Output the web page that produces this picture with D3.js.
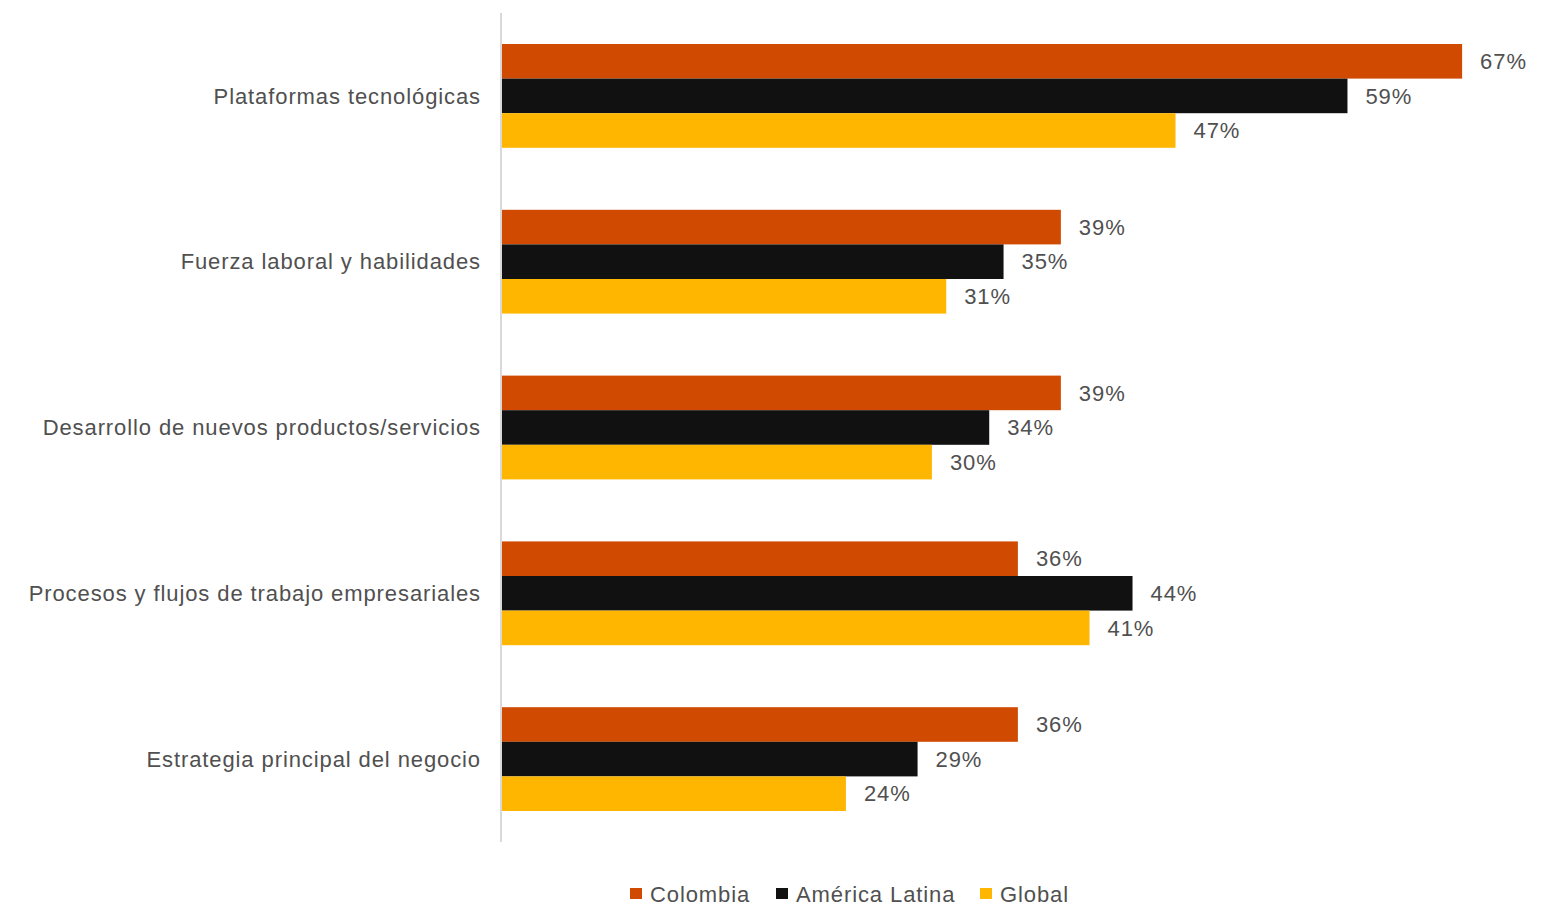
<!DOCTYPE html>
<html>
<head>
<meta charset="utf-8">
<script src="https://cdn.jsdelivr.net/npm/d3@7"></script>
<style>
  html, body { margin: 0; padding: 0; background: #ffffff; }
  svg { display: block; font-family: "Liberation Sans", Arial, sans-serif; }
  svg text { letter-spacing: 0.9px; }
</style>
</head>
<body>
<svg id="chart" width="1562" height="909"></svg>
<script>
// Áreas de transformación y porcentaje de respuestas
const categories = [
  "Plataformas tecnológicas",
  "Fuerza laboral y habilidades",
  "Desarrollo de nuevos productos/servicios",
  "Procesos y flujos de trabajo empresariales",
  "Estrategia principal del negocio"
];
const seriesNames = ["Colombia", "América Latina", "Global"];
const colombia = [67, 39, 39, 36, 36];
const americaLatina = [59, 35, 34, 44, 29];
const global = [47, 31, 30, 41, 24];
const seriesColors = ["#D04A02", "#111111", "#FFB600"];

const seriesValues = [colombia, americaLatina, global];

const svg = d3.select("#chart");
const plot = { left: 501, top: 13, bottom: 842 };
const textColor = "#505050";

const x = d3.scaleLinear().domain([0, 70]).range([plot.left + 1, plot.left + 1 + 70 * 14.33]);

const y0 = d3.scaleBand()
  .domain(categories)
  .range([plot.top, plot.bottom])
  .paddingInner(0.374)
  .paddingOuter(0.187);

const y1 = d3.scaleBand()
  .domain(seriesNames)
  .range([0, y0.bandwidth()])
  .padding(0);

const groups = svg.append("g").selectAll("g")
  .data(categories)
  .join("g")
  .attr("transform", d => `translate(0,${y0(d)})`);

groups.each(function(cat, ci) {
  const g = d3.select(this);
  seriesNames.forEach((s, si) => {
    const v = seriesValues[si][ci];
    g.append("rect")
      .attr("x", x(0))
      .attr("y", y1(s))
      .attr("width", x(v) - x(0))
      .attr("height", y1.bandwidth())
      .attr("fill", seriesColors[si]);
    g.append("text")
      .attr("x", x(v) + 18)
      .attr("y", y1(s) + y1.bandwidth() / 2)
      .attr("dy", "0.35em")
      .attr("font-size", 22)
      .attr("fill", textColor)
      .text(v + "%");
  });
});

// Eje vertical con las categorías
svg.append("line")
  .attr("x1", plot.left).attr("x2", plot.left)
  .attr("y1", plot.top).attr("y2", plot.bottom)
  .attr("stroke", "#d9d9d9")
  .attr("stroke-width", 2);

svg.append("g").selectAll("text")
  .data(categories)
  .join("text")
  .attr("x", 481)
  .attr("y", d => y0(d) + y0.bandwidth() / 2)
  .attr("dy", "0.35em")
  .attr("text-anchor", "end")
  .attr("font-size", 22)
  .attr("fill", textColor)
  .text(d => d);

// Leyenda
const legendX = [630, 776, 980];
const legend = svg.append("g").selectAll("g")
  .data(seriesNames)
  .join("g")
  .attr("transform", (d, i) => `translate(${legendX[i]},894)`);
legend.append("rect")
  .attr("x", 0).attr("y", -6)
  .attr("width", 12).attr("height", 11)
  .attr("fill", (d, i) => seriesColors[i]);
legend.append("text")
  .attr("x", 20)
  .attr("dy", "0.35em")
  .attr("font-size", 22)
  .attr("fill", textColor)
  .text(d => d);
</script>
</body>
</html>
